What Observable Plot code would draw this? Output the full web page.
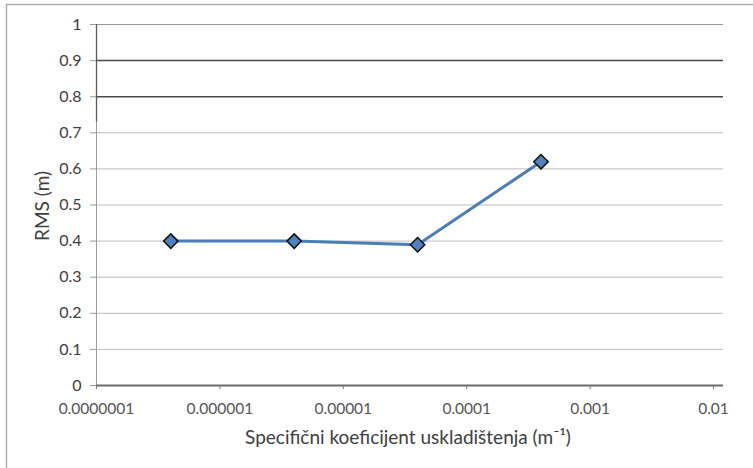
<!DOCTYPE html>
<html>
<head>
<meta charset="utf-8">
<script src="https://cdn.jsdelivr.net/npm/d3@7"></script>
<script src="https://cdn.jsdelivr.net/npm/@observablehq/plot@0.6"></script>
<style>
  html, body { margin: 0; padding: 0; background: #fff; }
  #chart { position: relative; width: 753px; height: 468px; }
</style>
</head>
<body>
<div id="chart"></div>
<script>
const coefficients = [4e-7, 4e-6, 4e-5, 4e-4];
const rmsValues = [0.40, 0.40, 0.39, 0.62];
const xTicks = [1e-7, 1e-6, 1e-5, 1e-4, 1e-3, 1e-2];
const xTickLabels = ["0.0000001", "0.000001", "0.00001", "0.0001", "0.001", "0.01"];
const yTicks = [0, 0.1, 0.2, 0.3, 0.4, 0.5, 0.6, 0.7, 0.8, 0.9, 1];
const xLabel = "Specifični koeficijent uskladištenja (m\u207B\u00B9)";
const yLabel = "RMS (m)";

const data = coefficients.map((c, i) => ({x: c, y: rmsValues[i]}));
const font = "Lato, 'Open Sans', sans-serif";
const xLabelFor = d => xTickLabels[Math.round(Math.log10(d)) + 7];

const plot = Plot.plot({
  width: 753,
  height: 468,
  marginLeft: 96,
  marginRight: 30,
  marginTop: 24,
  marginBottom: 83,
  style: {fontFamily: font, background: "transparent", color: "#404040"},
  x: {type: "log", domain: [1e-7, 0.01205]},
  y: {domain: [0, 1]},
  marks: [
    Plot.ruleY(yTicks.filter(d => d > 0), {
      x1: 1e-7, x2: 0.01205,
      stroke: d => (d >= 0.8 && d < 1) ? "#4a4a4a" : (d === 1 ? "#999" : "#bdbdbd"),
      strokeWidth: d => (d >= 0.8 && d < 1) ? 1.5 : 1,
      strokeOpacity: 1
    }),
    Plot.ruleX([1e-7], {y1: 0, y2: 1, stroke: "#9a9a9a"}),
    Plot.ruleX([1e-7], {y1: 0.73, y2: 1, stroke: "#5a5a5a", strokeWidth: 1.3}),
    Plot.ruleY([0], {x1: 1e-7, x2: 0.01205, stroke: "#6a6a6a", strokeWidth: 2}),
    Plot.axisY({
      ticks: yTicks, tickSize: 6, tickPadding: 9,
      tickFormat: d => String(d), fontSize: 16, label: null,
      stroke: "#9a9a9a", fill: "#404040"
    }),
    Plot.axisX({
      ticks: xTicks, tickSize: 4, tickPadding: 13,
      tickFormat: xLabelFor, fontSize: 15.5, label: null,
      stroke: "#777", fill: "#555"
    }),
    Plot.line(data, {x: "x", y: "y", stroke: "#4a7ebb", strokeWidth: 3}),
    Plot.dot(data, {x: "x", y: "y", symbol: "diamond2", r: 6.5, fill: "#4f81bd", stroke: "#111", strokeWidth: 1.5})
  ]
});
document.getElementById("chart").appendChild(plot);

const svg = d3.select(plot);
// axis titles
svg.append("text").attr("x", 408).attr("y", 444).attr("text-anchor", "middle")
  .attr("font-family", font).attr("font-size", 19).attr("fill", "#404040").text(xLabel);
svg.append("text").attr("transform", "translate(49,206) rotate(-90)").attr("text-anchor", "middle")
  .attr("font-family", font).attr("font-size", 19).attr("fill", "#404040").text(yLabel);
// outer chart-area border (left and top edges visible)
svg.append("line").attr("x1", 6).attr("x2", 753).attr("y1", 4.5).attr("y2", 4.5).attr("stroke", "#b0b0b0").attr("stroke-width", 1.5);
svg.append("line").attr("x1", 6.5).attr("x2", 6.5).attr("y1", 4).attr("y2", 468).attr("stroke", "#b0b0b0").attr("stroke-width", 1.5);
</script>
</body>
</html>
